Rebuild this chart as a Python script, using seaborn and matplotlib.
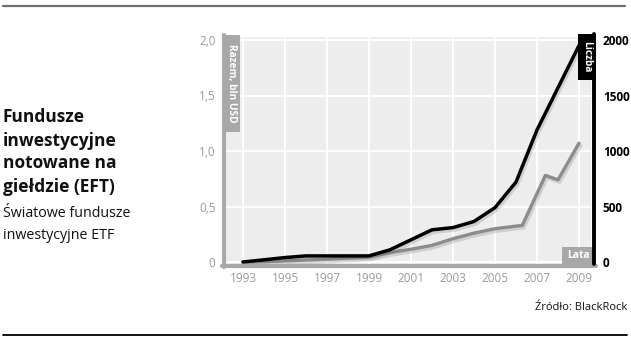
import matplotlib
matplotlib.use("Agg")
import matplotlib.pyplot as plt
import matplotlib.patheffects as pe
from matplotlib.lines import Line2D
from matplotlib.patches import Rectangle
import seaborn as sns
import pandas as pd

# ---- data ----
count_years = [1993, 1994, 1995, 1996, 1997, 1998, 1999, 2000, 2001, 2002,
               2003, 2004, 2005, 2006, 2007, 2008, 2009]
count_values = [0, 20, 40, 55, 55, 55, 55, 110, 200, 290,
                310, 365, 490, 720, 1190, 1570, 1950]          # Liczba (right axis)
assets_years = [1993, 1995, 1997, 1999, 2000, 2001, 2002, 2003, 2004, 2005,
                2006.3, 2007.4, 2008, 2009]
assets_values = [0, 0.01, 0.025, 0.045, 0.085, 0.115, 0.15, 0.21, 0.26, 0.30,
                 0.33, 0.78, 0.74, 1.07]                        # Razem, bln USD (left axis)
x_ticks = [1993, 1995, 1997, 1999, 2001, 2003, 2005, 2007, 2009]
left_ticks = [0, 0.5, 1.0, 1.5, 2.0]
left_labels = ["0", "0,5", "1,0", "1,5", "2,0"]
right_ticks = [0, 500, 1000, 1500, 2000]
right_labels = ["0", "500", "1000", "1500", "2000"]

sns.set_theme(style="white")
plt.rcParams['font.family'] = ['Open Sans', 'DejaVu Sans']

W, H = 631, 340
fig = plt.figure(figsize=(W / 100, H / 100), dpi=100)

def fx(px):
    return px / W

def fy(py):
    return 1 - py / H

L, R, T, B = 226, 591, 37, 264
ax = fig.add_axes([fx(L), fy(B), fx(R) - fx(L), fy(T) - fy(B)])
ax.set_facecolor("#ededed")
ax.set_xlim(1993 - (243 - L) / 21, 2009 + (R - 579) / 21)
ax.set_ylim(-(B - 262) / 111, (262 - T) / 111)
ax.set_xticks(x_ticks)
ax.set_xticklabels([str(t) for t in x_ticks])
ax.set_yticks(left_ticks)
ax.set_yticklabels(left_labels)
ax.grid(True, color="white", linewidth=1.3)
ax.set_axisbelow(True)
for s in ax.spines.values():
    s.set_visible(False)
ax.tick_params(axis="x", length=0, pad=5.5, labelsize=8.5, labelcolor="#9a9a9a")
ax.tick_params(axis="y", length=0, pad=7.5, labelsize=8.5, labelcolor="#9a9a9a")

shadow = [pe.SimpleLineShadow(offset=(1.2, -1.8), shadow_color="#666666", alpha=0.22),
          pe.Normal()]

df_a = pd.DataFrame({"rok": assets_years, "wartosc": assets_values})
sns.lineplot(data=df_a, x="rok", y="wartosc", ax=ax, color="#8c8c8c", linewidth=2.4)
ax.lines[-1].set_path_effects(shadow)
ax.set_xlabel("")
ax.set_ylabel("")

ax2 = ax.twinx()
ax2.set_ylim(ax.get_ylim()[0] * 1000, ax.get_ylim()[1] * 1000)
df_c = pd.DataFrame({"rok": count_years, "liczba": count_values})
sns.lineplot(data=df_c, x="rok", y="liczba", ax=ax2, color="black", linewidth=2.5)
ax2.lines[-1].set_path_effects(shadow)
ax2.set_yticks(right_ticks)
ax2.set_yticklabels(right_labels, fontweight="bold")
ax2.tick_params(axis="y", length=0, pad=8.5, labelsize=8.5, labelcolor="black")
ax2.set_xlabel("")
ax2.set_ylabel("")
ax2.grid(False)
for s in ax2.spines.values():
    s.set_visible(False)

# ---- axis bars and label boxes ----
fig.add_artist(Line2D([fx(224), fx(224)], [fy(35), fy(267)], color="#a8a8a8", linewidth=3.0))
fig.add_artist(Line2D([fx(222), fx(596)], [fy(265.5), fy(265.5)], color="#a8a8a8", linewidth=3.0))
fig.add_artist(Line2D([fx(594), fx(594)], [fy(34), fy(264)], color="black", linewidth=2.8))

fig.add_artist(Rectangle((fx(222), fy(132)), fx(240) - fx(222), fy(35) - fy(132),
                         facecolor="#a8a8a8", edgecolor="none"))
fig.text(fx(231.5), fy(83), "Razem, bln USD", rotation=-90, ha="center", va="center",
         color="white", fontsize=7.3, fontweight="bold")

fig.add_artist(Rectangle((fx(578), fy(80)), fx(596) - fx(578), fy(34) - fy(80),
                         facecolor="black", edgecolor="none"))
fig.text(fx(587), fy(57), "Liczba", rotation=-90, ha="center", va="center",
         color="white", fontsize=7.3, fontweight="bold")

fig.add_artist(Rectangle((fx(562), fy(266)), fx(596) - fx(562), fy(247) - fy(266),
                         facecolor="#a8a8a8", edgecolor="none"))
fig.text(fx(579), fy(256), "Lata", ha="center", va="center",
         color="white", fontsize=7.5, fontweight="bold")

# ---- rules ----
fig.add_artist(Line2D([fx(3), fx(625)], [fy(6), fy(6)], color="#6e6e6e", linewidth=1.6))
fig.add_artist(Line2D([fx(3), fx(627)], [fy(335), fy(335)], color="black", linewidth=1.3))

# ---- titles ----
for txt, base in [("Fundusze", 122), ("inwestycyjne", 145.5),
                  ("notowane na", 168.5), ("giełdzie (EFT)", 192)]:
    fig.text(fx(3), fy(base), txt, ha="left", va="baseline",
             fontsize=12.5, fontweight="bold", color="#111111")
for txt, base in [("Światowe fundusze", 217), ("inwestycyjne ETF", 239)]:
    fig.text(fx(3), fy(base), txt, ha="left", va="baseline",
             fontsize=10.3, color="#111111")

fig.text(fx(627), fy(310), "Źródło: BlackRock", ha="right", va="baseline",
         fontsize=8, color="#111111")

fig.savefig("out.png", dpi=100)
